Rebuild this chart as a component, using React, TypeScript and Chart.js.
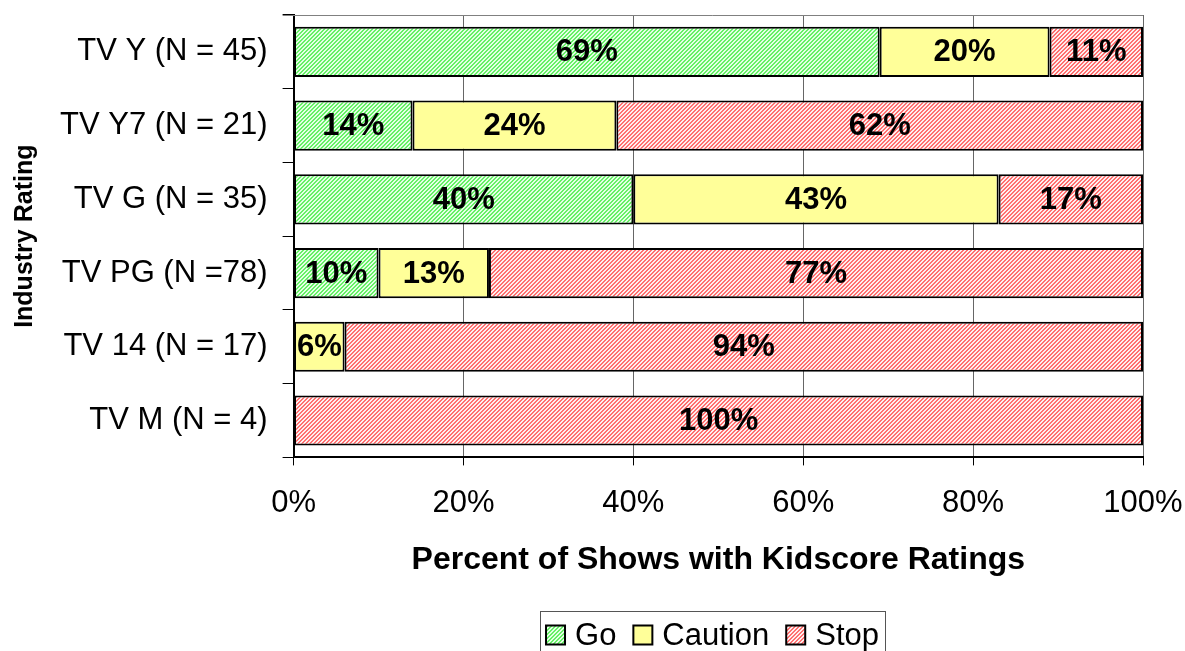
import React, { useEffect, useRef } from 'react';
import { Chart, registerables } from 'chart.js';

Chart.register(...registerables);

const categories = [
  'TV Y (N = 45)',
  'TV Y7 (N = 21)',
  'TV G (N = 35)',
  'TV PG (N =78)',
  'TV 14 (N = 17)',
  'TV M (N = 4)',
];
const goValues = [69, 14, 40, 10, 0, 0];
const cautionValues = [20, 24, 43, 13, 6, 0];
const stopValues = [11, 62, 17, 77, 94, 100];
const seriesNames = ['Go', 'Caution', 'Stop'];
const xTickValues = [0, 20, 40, 60, 80, 100];

const FONT = "'Liberation Sans', Arial, sans-serif";

function makePattern(fg: string, bg: string): CanvasPattern | string {
  const c = document.createElement('canvas');
  c.width = 4;
  c.height = 4;
  const g = c.getContext('2d');
  if (!g) return fg;
  g.fillStyle = bg;
  g.fillRect(0, 0, 4, 4);
  g.fillStyle = fg;
  for (let x = 0; x < 4; x++) {
    for (let y = 0; y < 4; y++) {
      if ((x + y) % 4 < 2) g.fillRect(x, y, 1, 1);
    }
  }
  const p = g.createPattern(c, 'repeat');
  return p || fg;
}

const labelsPlugin = {
  id: 'barLabels',
  afterDatasetsDraw(chart: any) {
    const ctx = chart.ctx;
    ctx.save();
    ctx.font = `bold 31px ${FONT}`;
    ctx.fillStyle = '#000';
    ctx.textAlign = 'center';
    ctx.textBaseline = 'middle';
    chart.data.datasets.forEach((ds: any, di: number) => {
      const meta = chart.getDatasetMeta(di);
      meta.data.forEach((el: any, i: number) => {
        const v = ds.data[i];
        if (!v) return;
        const cx = (el.x + el.base) / 2;
        ctx.fillText(v + '%', cx, el.y + 1);
      });
    });
    ctx.restore();
  },
};

const framePlugin = {
  id: 'frameAndLegend',
  afterDraw(chart: any) {
    const ctx = chart.ctx;
    const area = chart.chartArea;
    ctx.save();
    // top line
    ctx.strokeStyle = '#808080';
    ctx.lineWidth = 1;
    ctx.beginPath();
    ctx.moveTo(area.left - 11, area.top + 0.5);
    ctx.lineTo(area.right, area.top + 0.5);
    ctx.stroke();

    // custom legend
    const fontSize = 31;
    ctx.font = `${fontSize}px ${FONT}`;
    const box = 19;
    const gapText = 10;
    const gapItem = 17;
    const widths = seriesNames.map((n) => box + gapText + ctx.measureText(n).width);
    const total = widths.reduce((a, b) => a + b, 0) + gapItem * (seriesNames.length - 1);
    const boxLeft = 540;
    const boxRight = 885;
    const boxTop = 611.5;
    ctx.strokeStyle = '#555';
    ctx.lineWidth = 1;
    ctx.strokeRect(boxLeft + 0.5, boxTop, boxRight - boxLeft, 60);
    let x = (boxLeft + boxRight) / 2 - total / 2;
    const cy = 635;
    chart.data.datasets.forEach((ds: any, i: number) => {
      ctx.fillStyle = ds.backgroundColor;
      ctx.fillRect(x, cy - box / 2, box, box);
      ctx.strokeStyle = '#000';
      ctx.lineWidth = 2;
      ctx.strokeRect(x, cy - box / 2, box, box);
      ctx.fillStyle = '#000';
      ctx.textAlign = 'left';
      ctx.textBaseline = 'middle';
      ctx.fillText(seriesNames[i], x + box + gapText, cy + 1);
      x += widths[i] + gapItem;
    });
    ctx.restore();
  },
};

export default function App() {
  const ref = useRef<HTMLCanvasElement | null>(null);

  useEffect(() => {
    if (!ref.current) return;
    const green = makePattern('#66f066', '#e4ffe4');
    const red = makePattern('#ff7070', '#ffeeee');
    const yellow = '#ffff99';
    const colors = [green, yellow, red];
    const values = [goValues, cautionValues, stopValues];

    const chart = new Chart(ref.current, {
      type: 'bar',
      data: {
        labels: categories,
        datasets: seriesNames.map((name, i) => ({
          label: name,
          data: values[i],
          backgroundColor: colors[i] as any,
          borderColor: '#000',
          borderWidth: 2,
          borderSkipped: false,
          barPercentage: 0.68,
          categoryPercentage: 1,
        })),
      },
      options: {
        indexAxis: 'y',
        animation: false,
        responsive: true,
        maintainAspectRatio: false,
        layout: { padding: { left: 0, right: 42, top: 15, bottom: 72 } },
        plugins: {
          legend: { display: false },
          tooltip: { enabled: false },
        },
        scales: {
          x: {
            stacked: true,
            min: 0,
            max: 100,
            afterBuildTicks(scale: any) {
              scale.ticks = xTickValues.map((v) => ({ value: v }));
            },
            afterFit(scale: any) {
              scale.paddingLeft = 0;
              scale.paddingRight = 0;
            },
            ticks: {
              callback: (v: any) => v + '%',
              font: { family: FONT, size: 31 },
              color: '#000',
              padding: 19,
              maxRotation: 0,
            },
            grid: {
              color: '#666',
              tickColor: '#000',
              tickLength: 8,
              lineWidth: 1,
            },
            border: { color: '#000', width: 2 },
            title: {
              display: true,
              text: 'Percent of Shows with Kidscore Ratings',
              font: { family: FONT, size: 32, weight: 'bold' },
              color: '#000',
              padding: { top: 0, bottom: 0 },
            },
          },
          y: {
            stacked: true,
            afterFit(scale: any) {
              scale.paddingTop = 0;
              scale.paddingBottom = 0;
            },
            ticks: {
              font: { family: FONT, size: 31 },
              color: '#000',
              padding: 15,
            },
            grid: {
              drawOnChartArea: false,
              tickColor: '#000',
              tickLength: 11,
            },
            border: { color: '#000', width: 2 },
            title: {
              display: true,
              text: 'Industry Rating',
              font: { family: FONT, size: 25, weight: 'bold' },
              color: '#000',
              padding: { top: 10, bottom: 5 },
            },
          },
        },
      },
      plugins: [labelsPlugin, framePlugin],
    });
    return () => chart.destroy();
  }, []);

  return (
    <div style={{ position: 'fixed', left: 0, top: 0, width: 1185, height: 651, background: '#fff' }}>
      <canvas ref={ref} />
    </div>
  );
}
